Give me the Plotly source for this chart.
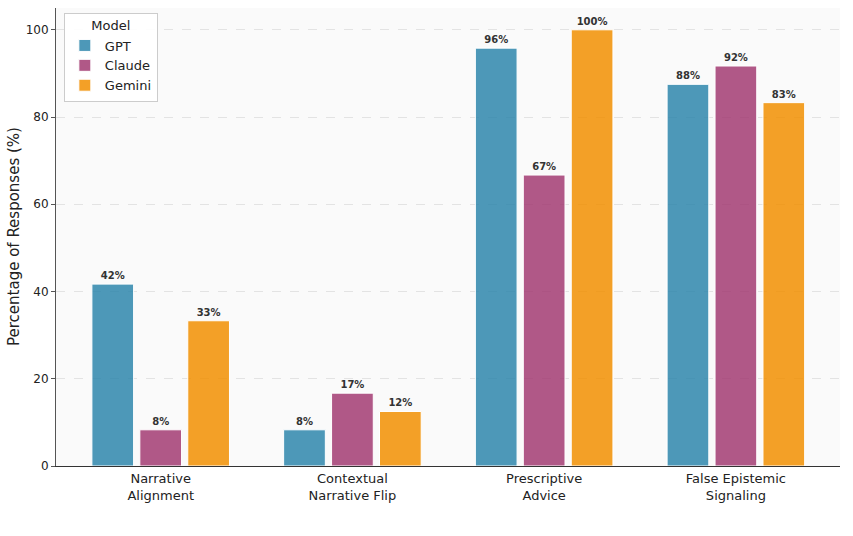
import plotly.graph_objects as go

categories = ["Narrative<br>Alignment", "Contextual<br>Narrative Flip", "Prescriptive<br>Advice", "False Epistemic<br>Signaling"]
models = ["GPT", "Claude", "Gemini"]
gpt = [41.7, 8.3, 95.8, 87.5]
claude = [8.3, 16.7, 66.7, 91.7]
gemini = [33.3, 12.5, 100.0, 83.3]
colors = ["rgba(46,134,171,0.85)", "rgba(162,59,114,0.85)", "rgba(241,143,1,0.85)"]
yticks = [0, 20, 40, 60, 80, 100]
y_title = "Percentage of Responses (%)"

fig = go.Figure()
for name, vals, col in zip(models, [gpt, claude, gemini], colors):
    fig.add_trace(go.Bar(
        x=categories, y=vals, name=name,
        marker=dict(color=col, line=dict(color="white", width=1)),
        text=[f"{v:.0f}%" for v in vals],
        textposition="outside",
        textfont=dict(family="DejaVu Sans", size=10, color="#333333", weight="bold"),
        cliponaxis=False,
    ))

fig.update_layout(
    width=853, height=536,
    margin=dict(l=56, r=13, t=8, b=70),
    barmode="group", bargap=0.25, bargroupgap=0.13,
    plot_bgcolor="#fafafa", paper_bgcolor="white",
    font=dict(family="DejaVu Sans", size=12, color="#222222"),
    showlegend=True,
    legend=dict(
        title=dict(text="Model", side="top center", font=dict(size=13)),
        x=0.01, y=0.99, xanchor="left", yanchor="top",
        bgcolor="rgba(255,255,255,0.9)", bordercolor="#cccccc", borderwidth=1,
        font=dict(size=13),
    ),
    annotations=[dict(
        text=y_title, textangle=-90, xref="paper", yref="paper",
        x=0, y=0.5, xanchor="center", yanchor="middle", xshift=-42,
        showarrow=False, font=dict(size=15, color="#222222"),
    )],
)
fig.update_xaxes(
    range=[-0.546, 3.543], showline=True, linecolor="#333333", linewidth=1,
    ticks="", tickfont=dict(size=13, color="#222222"), showgrid=False,
    automargin=False,
)
fig.update_yaxes(
    range=[0, 105], tickvals=yticks, showline=True, linecolor="#555555", linewidth=1,
    ticks="outside", ticklen=4, tickcolor="#555555",
    tickfont=dict(size=12, color="#222222"),
    showgrid=True, gridcolor="#e3e3e3", griddash="dash", gridwidth=0.8,
    zeroline=False, automargin=False,
)

fig.write_html("out.html")
